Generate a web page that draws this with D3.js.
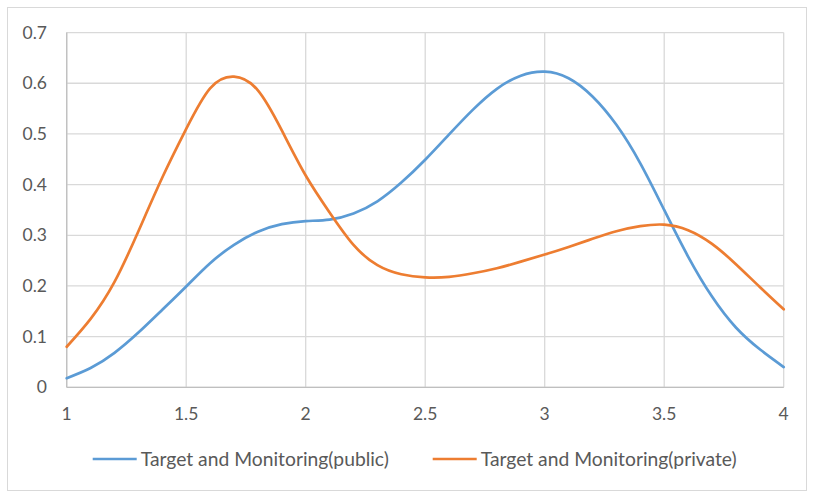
<!DOCTYPE html>
<html>
<head>
<meta charset="utf-8">
<script src="https://cdn.jsdelivr.net/npm/d3@7"></script>
<style>
  body { margin: 0; background: #fff; }
  text { font-family: Lato, 'Open Sans', sans-serif; fill: #595959; }
</style>
</head>
<body>
<svg width="817" height="495"></svg>
<script>
(function (d3) {
	'use strict';

	// scores on the x axis
	const xValues = [1.0, 1.1, 1.2, 1.3, 1.4, 1.5, 1.6, 1.7, 1.8, 1.9,
	                 2.0, 2.1, 2.2, 2.3, 2.4, 2.5, 2.6, 2.7, 2.8, 2.9,
	                 3.0, 3.1, 3.2, 3.3, 3.4, 3.5, 3.6, 3.7, 3.8, 3.9, 4.0];

	const publicValues = [0.018, 0.038, 0.068, 0.108, 0.153, 0.199, 0.245, 0.281, 0.307, 0.322,
	                      0.328, 0.331, 0.343, 0.367, 0.404, 0.449, 0.499, 0.548, 0.589, 0.615,
	                      0.623, 0.610, 0.574, 0.518, 0.442, 0.350, 0.258, 0.179, 0.118, 0.075, 0.040];

	const privateValues = [0.080, 0.135, 0.208, 0.308, 0.414, 0.510, 0.590, 0.613, 0.586, 0.507,
	                       0.418, 0.345, 0.281, 0.241, 0.223, 0.217, 0.218, 0.225, 0.235, 0.248,
	                       0.262, 0.277, 0.293, 0.308, 0.318, 0.321, 0.310, 0.283, 0.243, 0.198, 0.154];

	const xTicks = [1, 1.5, 2, 2.5, 3, 3.5, 4];
	const yTicks = [0, 0.1, 0.2, 0.3, 0.4, 0.5, 0.6, 0.7];

	const seriesNames = ['Target and Monitoring(public)', 'Target and Monitoring(private)'];
	const seriesColors = ['#5b9bd5', '#ed7d31'];

	const svg = d3.select('svg');

	// outer chart border
	svg.append('rect')
		.attr('x', 7.5).attr('y', 7.5)
		.attr('width', 799).attr('height', 483)
		.attr('fill', 'none')
		.attr('stroke', '#d9d9d9');

	const x = d3.scaleLinear().domain([1, 4]).range([66.7, 783.7]);
	const y = d3.scaleLinear().domain([0, 0.7]).range([387.3, 32.6]);

	// grid
	svg.append('g')
		.selectAll('line')
		.data(yTicks)
		.join('line')
			.attr('x1', x(1)).attr('x2', x(4))
			.attr('y1', d => y(d)).attr('y2', d => y(d))
			.attr('stroke', '#d9d9d9')
			.attr('stroke-width', 1.3);

	svg.append('g')
		.selectAll('line')
		.data(xTicks)
		.join('line')
			.attr('x1', d => x(d)).attr('x2', d => x(d))
			.attr('y1', y(0)).attr('y2', y(0.7))
			.attr('stroke', '#d9d9d9')
			.attr('stroke-width', 1.3);

	// axis lines
	svg.append('line')
		.attr('x1', x(1)).attr('x2', x(4))
		.attr('y1', y(0)).attr('y2', y(0))
		.attr('stroke', '#bfbfbf').attr('stroke-width', 1.3);
	svg.append('line')
		.attr('x1', x(1)).attr('x2', x(1))
		.attr('y1', y(0)).attr('y2', y(0.7))
		.attr('stroke', '#bfbfbf').attr('stroke-width', 1.3);

	// tick labels
	svg.append('g')
		.selectAll('text')
		.data(yTicks)
		.join('text')
			.attr('x', 47)
			.attr('y', d => y(d))
			.attr('dy', '0.35em')
			.attr('text-anchor', 'end')
			.attr('font-size', 17.5)
			.text(d => d);

	svg.append('g')
		.selectAll('text')
		.data(xTicks)
		.join('text')
			.attr('x', d => x(d))
			.attr('y', 414)
			.attr('dy', '0.35em')
			.attr('text-anchor', 'middle')
			.attr('font-size', 17.5)
			.text(d => d);

	// lines (smoothed like the spreadsheet's "smooth line")
	const line = d3.line()
		.x((d, i) => x(xValues[i]))
		.y(d => y(d))
		.curve(d3.curveNatural);

	[publicValues, privateValues].forEach((vals, i) => {
		svg.append('path')
			.attr('d', line(vals))
			.attr('fill', 'none')
			.attr('stroke', seriesColors[i])
			.attr('stroke-width', 2.7)
			.attr('stroke-linecap', 'round');
	});

	// legend
	const legendX = [92.7, 432.7];
	const legend = svg.append('g')
		.selectAll('g')
		.data(seriesNames)
		.join('g')
			.attr('transform', (d, i) => `translate(${legendX[i]}, 459)`);

	legend.append('line')
		.attr('x1', 0).attr('x2', 44)
		.attr('stroke', (d, i) => seriesColors[i])
		.attr('stroke-width', 2.7);

	legend.append('text')
		.attr('x', 48)
		.attr('dy', '0.35em')
		.attr('font-size', 19.3)
		.text(d => d);

}(d3));
</script>
</body>
</html>
